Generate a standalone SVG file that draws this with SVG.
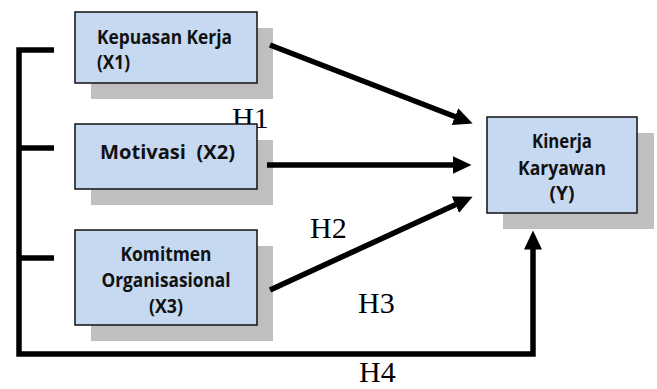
<svg xmlns="http://www.w3.org/2000/svg" width="657" height="389" viewBox="0 0 657 389">
<style>
.shadow{fill:#bfbfbf}
.box{fill:#c6d9f1;stroke:#111;stroke-width:1.5}
.lbl{font-family:"Open Sans","Noto Sans",sans-serif;font-weight:bold;font-size:19.5px;fill:#111}
.c{text-anchor:middle}
.h{font-family:"Liberation Serif","Times New Roman",serif;font-size:30px;fill:#000}
.ln{fill:none;stroke:#000;stroke-width:5.5;stroke-linejoin:miter;stroke-linecap:butt}
</style>
<defs>
<marker id="ah" markerUnits="userSpaceOnUse" markerWidth="20" markerHeight="20" refX="0.5" refY="9" orient="auto" viewBox="0 0 20 18">
<path d="M0,0 L19,9 L0,18 z" fill="#000"/>
</marker>
</defs>
<text class="h" x="232" y="128">H1</text>
<g id="x1">
<rect class="shadow" x="91" y="28" width="182" height="71"/>
<rect class="box" x="75" y="12" width="182" height="71"/>
<text class="lbl" x="97" y="44" textLength="135" lengthAdjust="spacingAndGlyphs">Kepuasan Kerja</text>
<text class="lbl" x="97" y="69" textLength="33" lengthAdjust="spacingAndGlyphs">(X1)</text>
</g>
<g id="x2">
<rect class="shadow" x="91" y="140" width="182" height="65"/>
<rect class="box" x="75" y="124" width="182" height="65"/>
<text class="lbl" x="100" y="159" textLength="135" lengthAdjust="spacingAndGlyphs" xml:space="preserve">Motivasi  (X2)</text>
</g>
<g id="x3">
<rect class="shadow" x="91" y="246" width="182" height="95"/>
<rect class="box" x="75" y="230" width="182" height="95"/>
<text class="lbl c" x="166" y="261" textLength="91" lengthAdjust="spacingAndGlyphs">Komitmen</text>
<text class="lbl c" x="166" y="287" textLength="129" lengthAdjust="spacingAndGlyphs">Organisasional</text>
<text class="lbl c" x="166" y="313" textLength="34" lengthAdjust="spacingAndGlyphs">(X3)</text>
</g>
<g id="y">
<rect class="shadow" x="503" y="133" width="151" height="96"/>
<rect class="box" x="487" y="117" width="150" height="96"/>
<text class="lbl c" x="562" y="148" textLength="60" lengthAdjust="spacingAndGlyphs">Kinerja</text>
<text class="lbl c" x="562" y="175" textLength="88" lengthAdjust="spacingAndGlyphs">Karyawan</text>
<text class="lbl c" x="562" y="200" textLength="25" lengthAdjust="spacingAndGlyphs">(Y)</text>
</g>
<g id="connectors">
<path class="ln" d="M270,45 L455.4,116.8" marker-end="url(#ah)"/>
<path class="ln" d="M267,165 L453,165" marker-end="url(#ah)"/>
<path class="ln" d="M270,290 L455.8,204.4" marker-end="url(#ah)"/>
<path class="ln" d="M54,50 H19 V354 H533 V249" marker-end="url(#ah)"/>
<path class="ln" d="M19,148 H54 M19,258 H54"/>
</g>
<text class="h" x="310" y="238">H2</text>
<text class="h" x="358" y="313">H3</text>
<text class="h" x="359" y="382">H4</text>
</svg>
